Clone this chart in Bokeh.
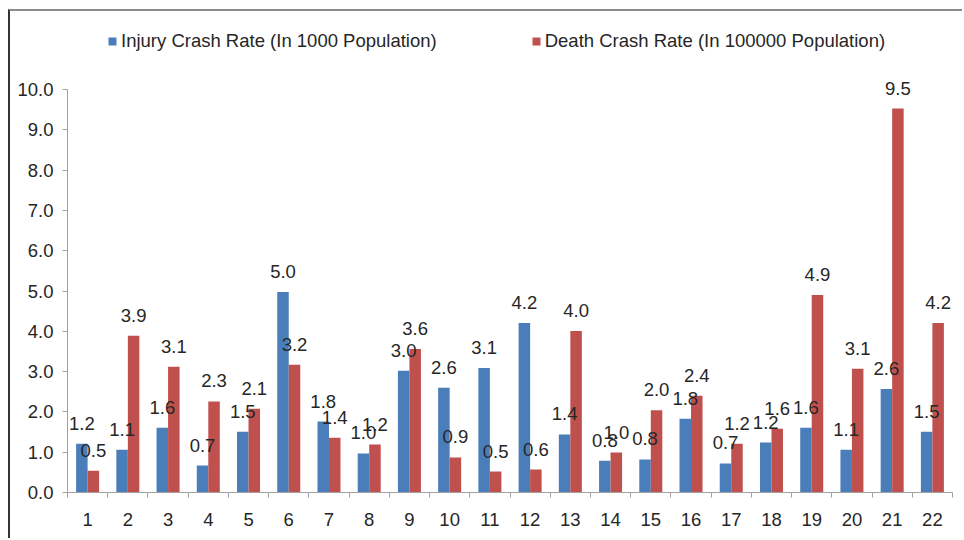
from bokeh.plotting import figure
from bokeh.models import (ColumnDataSource, Range1d, FixedTicker, LabelSet, Legend, LegendItem,
                          NumeralTickFormatter)
from bokeh.core.properties import value
from bokeh.transform import dodge
from bokeh.embed import file_html
from bokeh.resources import INLINE

categories = [str(i) for i in range(1, 23)]
injury = [1.21, 1.06, 1.61, 0.67, 1.51, 4.98, 1.76, 0.97, 3.02, 2.60, 3.09,
          4.21, 1.44, 0.79, 0.82, 1.83, 0.72, 1.24, 1.61, 1.06, 2.57, 1.51]
death = [0.54, 3.89, 3.12, 2.26, 2.08, 3.17, 1.36, 1.19, 3.56, 0.87, 0.52,
         0.57, 4.01, 0.99, 2.04, 2.40, 1.21, 1.58, 4.90, 3.07, 9.53, 4.21]
series_names = ["Injury Crash Rate (In 1000 Population)",
                "Death Crash Rate (In 100000 Population)"]
y_ticks = [0, 1, 2, 3, 4, 5, 6, 7, 8, 9, 10]

BLUE = "#4a7ebb"
RED = "#c0504d"
FONT = "Liberation Sans"
FS = "18.5px"
TXT = "#262626"
AX = "#a0a0a0"

n = len(categories)
centers = [i + 0.5 for i in range(n)]
src = ColumnDataSource(dict(
    x=centers, injury=injury, death=death,
    injury_lbl=[f"{v:.1f}" for v in injury],
    death_lbl=[f"{v:.1f}" for v in death],
))

p = figure(width=954, height=529, output_backend="svg", toolbar_location=None,
           x_range=Range1d(0, n), y_range=Range1d(0, 11.94),
           min_border_left=57, min_border_right=12, min_border_top=0, min_border_bottom=48)
p.margin = (9, 0, 0, 8)
p.styles = {"border-left": "2px solid #333333", "border-top": "2px solid #8c8c8c"}
p.outline_line_color = None
p.grid.grid_line_color = None
p.background_fill_color = "white"
p.border_fill_color = "white"

W = 0.286
r1 = p.vbar(x=dodge("x", -W / 2), top="injury", width=W, source=src, color=BLUE, line_color=None)
r2 = p.vbar(x=dodge("x", W / 2), top="death", width=W, source=src, color=RED, line_color=None)

for col, off in (("injury", -W / 2), ("death", W / 2)):
    ls = LabelSet(x=dodge("x", off), y=col, text=col + "_lbl", source=src,
                  text_align="center", text_baseline="alphabetic", y_offset=14,
                  text_font=value(FONT), text_font_size=value(FS), text_color=TXT)
    p.add_layout(ls)

# y axis
p.yaxis.ticker = FixedTicker(ticks=y_ticks)
p.yaxis.bounds = (0, 10)
p.yaxis.formatter = NumeralTickFormatter(format="0.0")
p.yaxis.axis_line_color = AX
p.yaxis.major_tick_line_color = AX
p.yaxis.major_tick_in = 0
p.yaxis.major_tick_out = 5
p.yaxis.minor_tick_line_color = None
p.yaxis.major_label_text_font = FONT
p.yaxis.major_label_text_font_size = FS
p.yaxis.major_label_text_color = TXT
p.yaxis.major_label_standoff = 9

# x axis: labels at centers, tick marks at boundaries
p.xaxis.ticker = FixedTicker(ticks=centers, minor_ticks=list(range(n + 1)))
p.xaxis.major_label_overrides = {c: lab for c, lab in zip(centers, categories)}
p.xaxis.axis_line_color = AX
p.xaxis.major_tick_line_color = None
p.xaxis.minor_tick_line_color = AX
p.xaxis.minor_tick_in = 0
p.xaxis.minor_tick_out = 5
p.xaxis.major_label_text_font = FONT
p.xaxis.major_label_text_font_size = FS
p.xaxis.major_label_text_color = TXT
p.xaxis.major_label_standoff = 14

legend = Legend(items=[LegendItem(label=series_names[0], renderers=[r1]),
                       LegendItem(label=series_names[1], renderers=[r2])],
                orientation="horizontal", location=(40, 440),
                glyph_width=10, glyph_height=10, label_standoff=4, spacing=94,
                padding=0, margin=0, border_line_color=None, background_fill_alpha=0,
                label_text_font=FONT, label_text_font_size=FS, label_text_color=TXT)
p.add_layout(legend, "center")

open("out.html", "w").write(file_html(p, INLINE))
